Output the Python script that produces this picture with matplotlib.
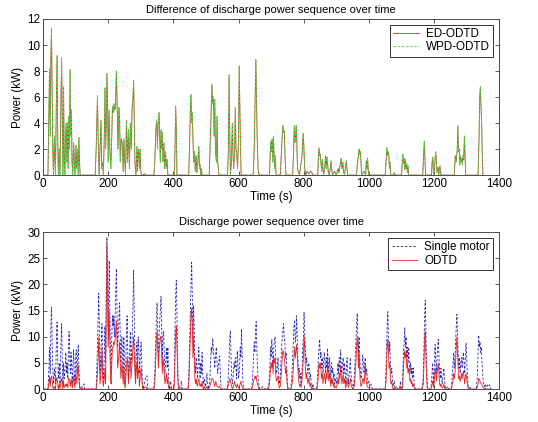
import matplotlib
matplotlib.use('Agg')
import matplotlib.pyplot as plt

# ---- top panel: difference of discharge power (kW) vs time (s) ----
t_top = [
    0, 15, 18, 20, 22, 24, 26, 28, 30, 32, 35, 38, 41, 43, 45, 47, 50, 52, 55, 57,
    59, 61, 63, 65, 67, 69, 71, 73, 75, 77, 79, 81, 83, 85, 87, 89, 91, 94, 96, 98,
    101, 103, 106, 108, 110, 112, 114,
    160, 163, 165, 167, 169, 172, 175, 178, 180, 183, 185, 188, 190, 192, 194, 196, 198, 200, 203, 205,
    208, 211, 213, 216, 218, 220, 222, 225, 227, 230, 233, 235, 237, 240, 243, 246, 248, 250, 253, 256,
    259, 262, 265, 268, 271, 273, 276, 278, 280, 282, 285, 288, 290, 292, 294, 296, 298, 300, 302, 305,
    313, 315,
    340, 343, 346, 349, 351, 353, 356, 358, 360, 362, 364, 366, 368, 371, 373, 376, 378, 381, 383, 403,
    405, 407, 409, 411,
    447, 450, 452, 454, 456, 458, 460, 462, 465, 467, 470, 472, 475, 478, 480, 482, 484, 486, 488,
    510, 513, 516, 518, 520, 523, 525, 527, 529, 532, 534, 536, 538, 540,
    566, 569, 571, 573, 575, 578, 581, 583, 585, 588, 590, 592, 594, 597, 600, 602, 604, 606, 608,
    645, 648, 651, 653, 655, 657, 660, 663,
    695, 697, 699, 701, 703, 705, 707, 709, 711, 713, 715, 728, 731, 734, 736, 738, 740, 742, 744, 746,
    766, 769, 771, 773, 775, 777, 779, 781, 784, 787, 795, 798, 800, 802, 804, 806, 810, 815, 820, 825, 828,
    843, 845, 847, 849, 851, 853, 855, 857, 859, 861, 865, 867, 869, 871, 873, 875, 878, 882, 884, 886,
    888, 895, 900, 905, 908, 912, 915, 917, 920, 922, 925, 928, 931, 933, 935,
    962, 965, 968, 970, 972, 974, 976, 978, 985, 990, 992, 994, 996, 998, 1000,
    1050, 1053, 1055, 1057, 1059, 1061, 1063, 1065, 1067, 1075, 1078, 1080,
    1100, 1102, 1104, 1106, 1108, 1110, 1112, 1114, 1116, 1118, 1120, 1122,
    1165, 1168, 1170, 1172, 1174,
    1192, 1194, 1196, 1198, 1200, 1203, 1205, 1207, 1209, 1212, 1214, 1218, 1220, 1222,
    1262, 1265, 1268, 1271, 1273, 1275, 1277, 1279, 1281, 1283, 1285, 1287, 1289, 1291, 1293, 1295, 1297,
    1335, 1338, 1340, 1342, 1344, 1346, 1348, 1350,
]
ed_odtd = [
    0, 0, 5, 8.2, 3, 9, 11.3, 6, 2, 0, 3, 0, 6, 9.2, 3, 0, 2, 0, 6, 9,
    4, 0, 6.8, 1, 0, 3, 4, 1, 4, 0.5, 4.5, 2, 8.1, 3, 5, 1, 0, 2.5, 1, 0,
    2.3, 0.5, 2, 0, 2.9, 1, 0,
    0, 2, 4, 6.1, 3, 0, 2, 4.2, 0.5, 1, 0, 3, 6.7, 2, 4, 7.8, 6, 1, 5, 2,
    0.5, 3, 5.3, 4.8, 5.5, 5, 5.2, 8, 6, 2, 5.2, 4.3, 1, 2.8, 2.5, 0.3, 2.8, 1.5, 0, 4.2,
    1, 3.5, 0.5, 4, 2, 5, 6, 7.3, 4, 1, 0, 2.2, 0.3, 2, 1.8, 0.5, 2, 0.3, 0, 0,
    0.1, 0,
    0, 1, 3.5, 4.2, 2, 3.8, 4.8, 3, 1, 3.5, 2, 3.3, 1, 2.5, 0.5, 1.8, 0.5, 1.2, 0, 0,
    2, 5.3, 3.5, 0,
    0, 2.5, 5, 6.2, 4, 4.8, 3, 1, 1.8, 0.3, 1.5, 0.2, 1, 2.2, 0.5, 0.8, 0, 0.5, 0,
    0, 2.5, 5, 7, 5.5, 6, 3, 5.8, 2, 1, 4.5, 1, 0.5, 0,
    0, 2, 7.7, 3, 0, 1, 4, 1.5, 0.5, 2, 5.2, 2, 1.8, 0.5, 3, 8.4, 5, 2, 0,
    0, 2, 6, 8.9, 6, 3, 0.5, 0,
    0, 1.5, 2.6, 1.8, 2.8, 1, 3, 1.5, 0.5, 1.5, 0, 0, 1.5, 3, 3.8, 3.3, 3.4, 2, 0.5, 0,
    0, 2, 3.8, 2.5, 3, 3.8, 2, 0.5, 0.2, 0, 1.5, 3.2, 2.5, 1, 0.3, 0, 0.3, 0.1, 0.3, 0.2, 0,
    0, 1.3, 2.1, 1.5, 1.6, 1, 0.3, 1.2, 0.5, 0, 0.8, 1.5, 0.5, 1.4, 1, 0.3, 0, 0.6, 1.1, 0.4,
    0, 0.3, 0, 0.5, 0.2, 0.8, 1.3, 0.5, 1, 0.3, 0, 0.6, 1.1, 0.4, 0,
    0, 1, 1.5, 2, 1.6, 1.8, 0.8, 0, 0.3, 0, 1.1, 0.5, 1.3, 0.3, 0,
    0, 1.2, 2.1, 1.5, 1.8, 1.6, 0.5, 1, 0, 0, 0.2, 0,
    0, 0.8, 1.6, 0.9, 1.3, 0.4, 1.2, 0.5, 0.9, 0.2, 0.7, 0,
    0, 1.5, 2.6, 1.2, 0,
    0, 1, 1.4, 0.3, 0, 1.2, 1.8, 1, 0.2, 0.6, 0, 0.7, 0.2, 0,
    0, 1.5, 1, 2, 3.8, 1.8, 2, 0.8, 1.5, 1, 1.3, 0.8, 1.5, 1.2, 3, 1.5, 0,
    0, 3, 6, 6.8, 5.2, 4, 1.5, 0,
]
# the two curves coincide in the picture
wpd_odtd = list(ed_odtd)

# ---- bottom panel: discharge power (kW) vs time (s) ----
t_bottom = [
    0, 15, 18, 20, 22, 24, 26, 28, 30, 32, 35, 38, 41, 43, 45, 47, 50, 52, 55, 57, 59,
    61, 63, 65, 68, 70, 72, 74, 76, 78, 80, 82, 84, 86, 88, 90, 92, 94, 96, 98, 100,
    102, 104, 106, 108, 110, 112, 114, 126, 128,
    163, 166, 169, 171, 173, 175, 178, 181, 183, 185, 188, 190, 192, 194, 196, 198, 200, 203, 205, 207,
    209, 211, 213, 215, 217, 219, 222, 225, 227, 229, 232, 235, 237, 239, 242, 244, 246, 248, 250, 252,
    255, 258, 260, 262, 265, 268, 270, 273, 276, 278, 280, 282, 284, 286, 288, 290, 292, 294, 296, 299,
    301, 303, 305, 307, 316, 319, 321,
    340, 343, 346, 348, 350, 352, 354, 357, 360, 362, 364, 366, 368, 370, 372, 374, 377, 379, 381, 383,
    385, 387, 392, 394, 401, 403, 405, 407, 409, 411, 413, 415, 417, 425, 427,
    445, 448, 451, 454, 456, 458, 460, 462, 464, 466, 468, 470, 472, 474, 476, 478, 480, 482, 484, 486,
    488, 490, 492, 495, 497, 500, 503, 505, 508, 512, 514, 516, 518, 521, 523, 525, 527, 530, 532, 534,
    536, 539, 542, 544, 546, 548,
    565, 568, 571, 573, 575, 577, 579, 581, 584, 586, 588, 590, 592, 594, 596, 598, 600, 603, 605, 607,
    609, 611, 613, 615,
    640, 643, 646, 648, 650, 652, 654, 656, 658, 660, 662, 665, 675, 680,
    690, 693, 696, 698, 700, 702, 704, 706, 708, 710, 712, 714, 716, 719, 721, 723, 725, 728, 730, 732,
    734, 736, 738, 740, 742, 744, 746, 748, 750, 752,
    760, 763, 766, 768, 770, 772, 774, 776, 778, 780, 782, 784, 786, 788, 790, 792, 795, 797, 799, 801,
    803, 805, 807, 809, 811, 813, 815, 817, 819, 821, 823, 825, 828, 831,
    840, 843, 845, 847, 849, 851, 853, 855, 857, 859, 861, 863, 865, 867, 869, 871, 873, 875, 877, 879,
    881, 883, 885, 887, 889, 891, 893, 895, 898, 900, 903, 905, 907, 909, 911, 913, 915, 917, 919, 921,
    923, 925, 927, 929, 931, 933, 935, 937, 940, 943, 945, 948, 951, 955, 958, 960, 962, 964, 966, 968,
    970, 972, 974, 976, 979, 981, 983, 985, 987, 989, 991, 993, 995, 997, 1000, 1003, 1006, 1010,
    1050, 1052, 1054, 1056, 1058, 1060, 1062, 1064, 1066, 1068, 1070, 1072, 1074, 1078, 1080, 1085, 1088,
    1094, 1097, 1099,
    1102, 1104, 1106, 1108, 1110, 1112, 1114, 1116, 1118, 1120, 1122, 1124, 1126, 1128, 1130, 1132, 1134,
    1136, 1138, 1140, 1142,
    1162, 1165, 1167, 1169, 1171, 1173, 1175, 1177, 1179, 1181,
    1190, 1193, 1195, 1197, 1199, 1201, 1203, 1205, 1207, 1209, 1211, 1213, 1215, 1217, 1219, 1221, 1223,
    1225, 1228, 1230, 1232, 1234, 1236, 1242, 1245,
    1252, 1254, 1256, 1258, 1260, 1262, 1264, 1266, 1268, 1270, 1272, 1274, 1276, 1278, 1280, 1282, 1284,
    1286, 1288, 1290, 1292, 1294, 1296, 1298, 1300, 1302, 1304, 1306, 1310, 1313,
    1330, 1333, 1335, 1337, 1339, 1341, 1343, 1345, 1347, 1349, 1351, 1354, 1357, 1360, 1365, 1368, 1371,
    1374,
]
single_motor = [
    0, 0, 4, 8, 3, 12, 15.7, 9, 4, 1, 4, 1, 9, 12.8, 6, 2, 5, 1, 9, 12.5, 6,
    1, 5, 2, 4, 7, 3, 5, 2, 8, 11, 6, 3, 7, 4, 1, 5, 7.5, 3, 1, 6,
    7.5, 3, 6, 8.5, 4, 1, 0, 1, 0,
    0, 6, 13, 18.3, 10, 3, 8, 12.5, 5, 1, 6, 12, 5, 20, 29, 22, 12, 24.5, 15, 6,
    3, 10, 14, 12, 14, 10, 16, 23, 15, 8, 12, 16.5, 10, 5, 10, 6, 3, 10, 4, 1,
    8, 14, 7, 2, 6, 11, 5, 9, 16, 22.7, 14, 6, 2, 7, 9, 4, 10, 8, 3, 7,
    9, 5, 1, 0, 2.5, 2.5, 0,
    0, 3, 10, 14, 16.5, 10, 6, 12, 15, 17.7, 12, 6, 10, 11, 7, 3, 6, 8, 4, 8,
    3, 0, 1.5, 0, 0, 3, 12, 18, 20.8, 14, 6, 1, 0, 1.5, 0,
    0, 4, 12, 20, 24.2, 18, 10, 16, 12, 5, 3, 6, 4, 2, 5, 8, 4, 2, 5, 3,
    7, 3, 1, 2, 0.5, 1, 3, 1, 0, 2, 5, 8, 7, 9.7, 7, 6, 4, 7, 8, 5,
    3, 5, 6.3, 3, 0.5, 0,
    0, 2, 6, 10, 11.2, 6, 2, 1, 3, 5, 4, 6, 4, 2, 7.3, 5, 2, 4, 8, 6,
    11.5, 7, 2, 0,
    0, 2, 6, 9, 7, 11, 12.9, 8, 4, 2, 1, 0, 0.5, 0,
    0, 1, 4, 8, 6, 9.5, 7, 5, 8, 9, 10, 6, 3, 4, 6, 3, 1, 2, 5, 8,
    10, 11, 12.5, 10, 9, 6, 7, 4, 1, 0,
    0, 2, 6, 9, 12, 13.2, 9, 10, 14, 10, 6, 3, 4, 2, 3, 1, 4, 8, 10, 14.7,
    11, 7, 5, 6, 4, 3, 5, 4, 2, 3, 1, 0, 1, 0,
    0, 3, 6, 8, 9.5, 6, 7, 4, 6, 3, 5, 7, 5, 3, 6, 4, 7.8, 5, 3, 6,
    4, 2, 5, 3, 4, 2, 3, 1, 2, 1, 3, 5, 3, 6, 4, 7.5, 5, 3, 5, 6,
    3, 5, 3, 1, 4, 6, 3, 1, 3, 6, 3, 1, 0, 2, 6, 9, 12, 14.5, 10, 7,
    10, 6, 3, 2, 4, 6.5, 5, 3, 5, 6, 3, 4, 2, 1, 1.5, 0.5, 1, 0,
    0, 3, 8, 12, 14.8, 10, 7, 9, 5, 3, 4, 2, 0.5, 1.5, 0, 0.5, 0,
    0, 1.5, 0,
    0, 3, 7, 9, 11.7, 8, 10, 6, 8, 5, 8, 5, 3, 5, 3, 4, 2,
    4, 2, 0.5, 0,
    0, 1, 3, 8, 14, 17, 10, 4, 1, 0,
    0, 2, 5, 3, 1, 5, 8.5, 6, 3, 6, 8, 9.5, 6, 3, 2, 4, 2,
    1, 3, 4, 2, 0.5, 0, 0.5, 0,
    0, 1, 3, 5, 7, 4, 6, 9, 12, 14.3, 10, 7, 4, 6, 3, 5, 6,
    4, 5.5, 7, 5, 3, 6, 8.8, 6, 3, 1, 0, 0.5, 0,
    0, 3, 7, 10.3, 8, 9, 7, 8, 5, 3, 1.5, 0.5, 1, 0.3, 0.8, 0.5, 0.8,
    0,
]
odtd = [
    0, 0, 1, 2.5, 0.5, 2, 2.5, 1.5, 0.5, 0, 0.5, 0, 2, 2.2, 1, 0, 1, 0, 1.5, 2, 1,
    0, 1.5, 0.3, 0.5, 1, 0.5, 1, 0.3, 2, 2, 1.5, 0.5, 2, 1, 0.2, 1.5, 2.5, 1, 0.2, 3,
    2, 1, 4, 4.5, 2, 0.3, 0, 0.2, 0,
    0, 2, 6, 10, 5, 1, 3, 8, 2, 0.5, 2, 4, 1, 14, 27.5, 20, 8, 15, 8, 2,
    1, 5, 8, 8, 9, 8.5, 10, 13, 9, 4, 6, 9, 5, 2, 5, 3, 1, 4, 1, 0.2,
    3, 6, 5, 1, 4, 6, 2, 5, 8, 10, 7, 3, 1, 4, 5, 2, 4, 3, 0.5, 3,
    4, 2, 0.5, 0, 0.5, 0, 0,
    0, 1, 6, 10, 11, 8, 4, 8, 10, 10, 7, 3, 6, 5, 3, 1, 2, 3, 1, 2,
    0.5, 0, 0.3, 0, 0, 1, 6, 11, 12, 8, 3, 0.3, 0, 0.3, 0,
    0, 2, 8, 14, 15.5, 12, 6, 10, 6, 2, 1, 2, 1, 0.5, 1.5, 2, 1, 0.5, 1, 0.5,
    1.5, 0.5, 0, 0.5, 0, 0.2, 0.5, 0, 0, 0.5, 1, 1.5, 2, 2, 1.5, 1, 0.5, 1.5, 1, 0.5,
    0.5, 0.3, 0.5, 0.2, 0, 0,
    0, 0.5, 1.5, 2, 1.5, 1, 0.5, 0, 0.5, 1, 1.5, 0.8, 0.5, 0.3, 1, 0.5, 0.2, 0.5, 1, 1.5,
    1, 0.5, 0.2, 0,
    0, 0.5, 1.5, 2, 2.5, 2, 2.5, 1.5, 1, 0.5, 0, 0, 0, 0,
    0, 0.3, 2, 4, 5, 4, 5.5, 3, 6, 5, 6, 3, 1.5, 2, 2.5, 1, 0.2, 0.5, 2, 4,
    6, 7.5, 7, 6, 5, 3, 4, 2, 0.5, 0,
    0, 0.5, 2, 4, 6, 8, 6, 7, 8.5, 7, 4, 2, 1, 0.5, 1, 0.3, 2, 4, 6, 10.3,
    8, 4, 2, 3, 2, 1, 2, 1.5, 0.5, 1, 0.3, 0, 0.2, 0,
    0, 1, 3, 5, 4, 5, 3.5, 2, 3, 1, 2, 3, 2, 1, 3, 2, 5.5, 3, 1.5, 3,
    2, 0.5, 2, 1, 2, 0.5, 1, 0.2, 0.5, 0.2, 1, 2, 1, 3, 2, 4.5, 3, 1, 2, 3,
    1, 2, 1, 0.2, 1, 2, 1, 0.3, 1, 2, 1, 0.3, 0, 0.5, 3, 5, 8, 10, 8, 4,
    7, 3, 1, 0.5, 1, 2, 2, 1, 2.5, 5, 2, 1, 0.5, 0.3, 0.3, 0, 0, 0,
    0, 1, 4, 8, 9.5, 7, 4, 5, 2, 1, 1.5, 0.5, 0, 0.3, 0, 0, 0,
    0, 0.5, 0,
    0, 1, 4, 6, 7.5, 6, 7, 4, 5, 3, 4, 3, 1.5, 2, 1, 1.5, 0.5,
    1, 0.5, 0, 0,
    0, 0.3, 1, 5, 10, 11, 6, 2, 0.3, 0,
    0, 0.5, 1.5, 1, 0.3, 2, 4, 3, 1.5, 3, 4, 5, 3, 1, 0.5, 1, 0.5,
    0.2, 0.5, 1, 0.3, 0, 0, 0, 0,
    0, 0.2, 1, 1.5, 3, 2, 3, 5, 8, 10, 7, 4, 2, 2.5, 1.5, 2, 3,
    2, 3, 3.5, 2, 1, 2.5, 3, 2, 1, 0.3, 0, 0, 0,
    0, 0.5, 1, 2, 1.8, 1.5, 1.2, 1, 0.8, 0.5, 0.3, 0, 0.2, 0, 0, 0, 0,
    0,
]

x_ticks = [0, 200, 400, 600, 800, 1000, 1200, 1400]

plt.rcParams['font.family'] = ['Liberation Sans', 'DejaVu Sans']
plt.rcParams['font.size'] = 8.4

fig = plt.figure(figsize=(5.38, 4.22), dpi=100)
ax1 = fig.add_axes([0.080, 0.585, 0.848, 0.370])
ax2 = fig.add_axes([0.080, 0.078, 0.848, 0.372])

# Top: difference curves
ax1.plot(t_top, ed_odtd, color='#d02a2a', lw=0.6, label='ED-ODTD')
ax1.plot(t_top, wpd_odtd, color='#3ee03e', lw=0.6, ls=(0, (3, 2)), label='WPD-ODTD')
ax1.set_xlim(0, 1400)
ax1.set_ylim(0, 12)
ax1.set_yticks(range(0, 13, 2))
ax1.set_title('Difference of discharge power sequence over time', fontsize=8, pad=4)
ax1.set_ylabel('Power (kW)', labelpad=2)
ax1.set_xlabel('Time (s)', labelpad=1)

# Bottom: single motor vs ODTD
ax2.plot(t_bottom, single_motor, color='#2a2ab8', lw=0.6, ls=(0, (3, 2)), label='Single motor')
ax2.plot(t_bottom, odtd, color='#e52020', lw=0.6, label='ODTD')
ax2.set_xlim(0, 1400)
ax2.set_ylim(0, 30)
ax2.set_yticks(range(0, 31, 5))
ax2.set_title('Discharge power sequence over time', fontsize=8, pad=5)
ax2.set_ylabel('Power (kW)', labelpad=2)
ax2.set_xlabel('Time (s)', labelpad=1)

for ax in (ax1, ax2):
    ax.set_xticks(x_ticks)
    ax.tick_params(direction='in', top=True, right=True, length=3, width=0.6,
                   labelsize=8.4, color='0.25', pad=2)
    for sp in ax.spines.values():
        sp.set_linewidth(0.7)
        sp.set_color('0.3')
    leg = ax.legend(loc='upper right', fancybox=False, framealpha=1,
                    edgecolor='0.2', handlelength=2.2, borderaxespad=0.5,
                    borderpad=0.3, labelspacing=0.1, handletextpad=0.6, fontsize=8.4)
    leg.get_frame().set_linewidth(0.7)

fig.savefig('out.png', dpi=100)
